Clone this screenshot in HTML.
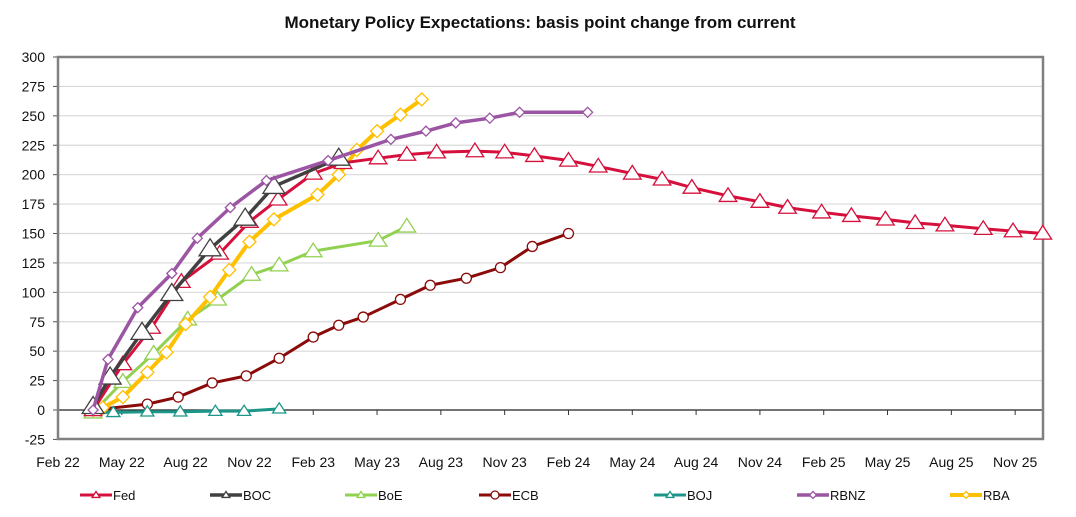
<!DOCTYPE html>
<html><head><meta charset="utf-8"><style>
body{margin:0;background:#fff;}
svg{display:block;font-family:"Liberation Sans",Arial,sans-serif;}
</style></head><body>
<svg id="chart" width="1076" height="517" viewBox="0 0 1076 517" xmlns="http://www.w3.org/2000/svg">
<text x="540" y="28" text-anchor="middle" font-size="17" font-weight="bold" fill="#111">Monetary Policy Expectations: basis point change from current</text>
<g id="grid"></g><g id="axes"></g><g id="series"></g><g id="legend"></g>
</svg>
<script>
const yTicks=[-25,0,25,50,75,100,125,150,175,200,225,250,275,300];
const xTickLabels=["Feb 22","May 22","Aug 22","Nov 22","Feb 23","May 23","Aug 23","Nov 23","Feb 24","May 24","Aug 24","Nov 24","Feb 25","May 25","Aug 25","Nov 25"];
// x positions in months since Feb 22
const fedX=[1.65,3.05,4.4,5.8,7.6,9.0,10.35,12.0,13.4,15.05,16.4,17.8,19.6,21.0,22.4,24.0,25.4,27.0,28.4,29.8,31.5,33.0,34.3,35.9,37.3,38.9,40.3,41.7,43.5,44.9,46.3];
const fedY=[0,39,70,109,133,160,179,201,210,214,217,219,220,219,216,212,207,201,196,189,182,177,172,168,165,162,159,157,154,152,150];
const bocX=[1.65,2.45,3.95,5.35,7.15,8.8,10.15,13.2];
const bocY=[3,28,66,99,137,163,190,214];
const boeX=[1.65,3.05,4.5,6.1,7.5,9.1,10.4,12.0,15.05,16.4];
const boeY=[-2,24,48,77,94,115,123,135,144,156];
const ecbX=[1.65,4.2,5.65,7.25,8.85,10.4,12.0,13.2,14.35,16.1,17.5,19.2,20.8,22.3,24.0];
const ecbY=[0,5,11,23,29,44,62,72,79,94,106,112,121,139,150];
const bojX=[1.65,2.6,4.2,5.75,7.4,8.75,10.4];
const bojY=[-2,-2,-1.5,-1.5,-1,-1,1];
const rbnzX=[1.65,2.35,3.75,5.35,6.55,8.1,9.8,12.7,15.65,17.3,18.7,20.3,21.7,24.9];
const rbnzY=[0,43,87,116,146,172,195,212,230,237,244,248,253,253];
const rbaX=[1.65,2.1,3.05,4.2,5.1,6.0,7.15,8.05,9.0,10.15,12.2,13.2,14.05,15.0,16.1,17.1];
const rbaY=[0,2,11,32,49,73,96,119,143,162,183,200,221,237,251,264];
const legendNames=["Fed","BOC","BoE","ECB","BOJ","RBNZ","RBA"];

const L=58,R=1043,T=57,B=439;
const xs=m=>L+m*21.27;
const ys=v=>410-v*(353/300);
const NS="http://www.w3.org/2000/svg";
function mk(tag,attrs,parent){const e=document.createElementNS(NS,tag);for(const k in attrs)e.setAttribute(k,attrs[k]);parent.appendChild(e);return e;}
const grid=document.getElementById('grid'),axes=document.getElementById('axes'),ser=document.getElementById('series'),leg=document.getElementById('legend');
mk('rect',{x:L,y:T,width:R-L,height:B-T,fill:'#fff',stroke:'none'},grid);
yTicks.forEach(v=>{
  const y=ys(v);
  if(v!==0&&v!==-25){const g=mk('line',{x1:L,x2:R,y1:y,y2:y,stroke:'#d9d9d9','stroke-width':1.2},grid);
  
  }
  const t=mk('text',{x:L-13,y:y+5,'text-anchor':'end','font-size':14,fill:'#111'},axes);t.textContent=v;
  
  
  mk('line',{x1:L-5,x2:L,y1:y,y2:y,stroke:'#555','stroke-width':1},axes);
});
const zl=mk('line',{x1:L,x2:R,y1:ys(0),y2:ys(0),stroke:'#222','stroke-width':1.3},axes);


xTickLabels.forEach((s,i)=>{
  const x=xs(i*3);
  mk('line',{x1:x,x2:x,y1:ys(0),y2:ys(0)+5,stroke:'#333','stroke-width':1},axes);
  const t=mk('text',{x:x,y:467,'text-anchor':'middle','font-size':14,fill:'#111'},axes);t.textContent=s;
  
  
});
const fr=mk('rect',{x:L,y:T,width:R-L,height:B-T,fill:'none',stroke:'#808080','stroke-width':2.5},axes);



function marker(type,x,y,s,color,p){
  if(type==='tri') return mk('polygon',{points:`${x},${y-s} ${x-s*1.1},${y+s*0.7} ${x+s*1.1},${y+s*0.7}`,fill:'#fff',stroke:color,'stroke-width':1.3},p);
  if(type==='dia') return mk('polygon',{points:`${x},${y-s} ${x+s},${y} ${x},${y+s} ${x-s},${y}`,fill:'#fff',stroke:color,'stroke-width':1.3},p);
  return mk('circle',{cx:x,cy:y,r:s,fill:'#fff',stroke:color,'stroke-width':1.3},p);
}
function drawSeries(name,X,Y,color,w,type,s){
  const g=mk('g',{},ser);
  
  
  const pts=X.map((m,i)=>xs(m)+','+ys(Y[i])).join(' ');
  mk('polyline',{points:pts,fill:'none',stroke:color,'stroke-width':w,'stroke-linejoin':'round'},g);
  X.forEach((m,i)=>{const e=marker(type,xs(m),ys(Y[i]),s,color,g);
    
    });
}
const styles={Fed:['#d5103c',3,'tri',8],BOC:['#404040',3.5,'tri',10],BoE:['#92d050',3,'tri',8],ECB:['#8b0a0a',3,'circ',5],BOJ:['#1b9688',3,'tri',6],RBNZ:['#9b55a3',3.5,'dia',5],RBA:['#ffc000',4,'dia',6.5]};
drawSeries('ECB',ecbX,ecbY,...styles.ECB);
drawSeries('BOJ',bojX,bojY,...styles.BOJ);
drawSeries('BoE',boeX,boeY,...styles.BoE);
drawSeries('RBA',rbaX,rbaY,...styles.RBA);
drawSeries('Fed',fedX,fedY,...styles.Fed);
drawSeries('BOC',bocX,bocY,...styles.BOC);
drawSeries('RBNZ',rbnzX,rbnzY,...styles.RBNZ);

const legX=[80,210,345,479,654,797,950];
legendNames.forEach((n,i)=>{
  const st=styles[n],x=legX[i],y=495;
  const g=mk('g',{},leg);
  
  
  mk('line',{x1:x,x2:x+32,y1:y,y2:y,stroke:st[0],'stroke-width':st[1]},g);
  marker(st[2],x+16,y,st[2]==='circ'?4:3.5,st[0],g);
  const t=mk('text',{x:x+33,y:y+5,'font-size':13,fill:'#111'},g);t.textContent=n;
});
</script>
</body></html>
